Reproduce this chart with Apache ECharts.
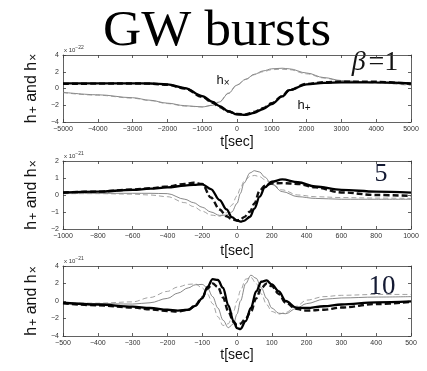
<!DOCTYPE html>
<html>
<head>
<meta charset="utf-8">
<script src="https://cdn.jsdelivr.net/npm/echarts@6/dist/echarts.min.js"></script>
<style>
  html, body { margin: 0; padding: 0; background: #fff; }
  #chart { width: 427px; height: 371px; }
</style>
</head>
<body>
<div id="chart"></div>
<script>
// ---- beta = 1 (units of 1e-22) ----
const b1Time = [-5000,-4000,-3000,-2500,-2000,-1500,-1000,-700,-500,-250,0,250,500,750,1000,1300,1500,2000,2500,3000,4000,5000];
const b1PlusSolid  = [0.6,0.62,0.62,0.6,0.5,0.05,-0.9,-1.6,-2.1,-2.7,-3.1,-3.15,-2.9,-2.45,-1.85,-0.95,-0.2,0.5,0.68,0.74,0.72,0.62];
const b1PlusDashed = [0.55,0.58,0.6,0.58,0.45,0.0,-1.0,-1.7,-2.2,-2.75,-3.05,-3.1,-2.8,-2.35,-1.75,-0.9,-0.2,0.55,0.75,0.82,0.8,0.55];
const b1CrossSolid = [-0.45,-0.75,-1.1,-1.4,-1.75,-2.05,-2.2,-2.0,-1.6,-0.6,0.4,1.1,1.7,2.1,2.35,2.42,2.35,1.85,1.3,0.95,0.7,0.45];
const b1CrossDashed= [-0.5,-0.8,-1.15,-1.45,-1.8,-2.1,-2.2,-2.0,-1.55,-0.55,0.45,1.1,1.65,2.0,2.25,2.3,2.25,1.75,1.25,0.9,0.65,0.35];

// ---- beta = 5 (units of 1e-21) ----
const b5Time = [-1000,-800,-600,-500,-400,-300,-250,-200,-150,-100,-60,-30,0,20,40,75,100,130,160,200,260,350,450,600,800,1000];
const b5PlusSolid  = [0.14,0.2,0.3,0.37,0.45,0.55,0.6,0.63,0.35,-0.3,-0.85,-1.3,-1.5,-1.57,-1.52,-1.28,-0.8,-0.1,0.45,0.78,0.92,0.75,0.5,0.3,0.2,0.14];
const b5PlusDashed = [0.15,0.2,0.32,0.4,0.5,0.65,0.72,0.65,-0.15,-0.85,-1.25,-1.42,-1.5,-1.45,-1.3,-0.98,-0.5,0.25,0.55,0.68,0.7,0.65,0.45,0.15,0.0,-0.05];
const b5CrossSolid = [0.1,0.1,0.1,0.1,0.08,-0.25,-0.45,-0.72,-1.0,-1.2,-1.18,-1.0,-0.5,0.1,0.7,1.3,1.43,1.35,1.05,0.62,0.2,-0.1,-0.2,-0.25,-0.25,-0.25];
const b5CrossDashed= [0.08,0.08,0.05,0.0,-0.1,-0.45,-0.68,-0.95,-1.18,-1.25,-1.05,-0.6,-0.05,0.4,0.8,1.1,1.15,1.08,0.9,0.65,0.3,0.0,-0.1,-0.15,-0.18,-0.2];

// ---- beta = 10 (units of 1e-21) ----
const b10Time = [-500,-400,-300,-250,-200,-170,-140,-120,-100,-85,-70,-55,-40,-25,-10,0,10,25,40,55,70,85,100,120,140,170,200,250,300,400,500];
const b10PlusSolid  = [-0.2,-0.4,-0.65,-0.8,-1.0,-1.1,-1.0,-0.55,0.3,1.6,2.5,2.4,1.5,-0.5,-2.3,-3.1,-3.2,-2.3,-0.8,1.1,2.2,2.35,1.9,1.1,0.0,-0.75,-0.8,-0.6,-0.4,-0.15,-0.05];
const b10PlusDashed = [-0.25,-0.5,-0.75,-0.95,-1.15,-1.2,-1.0,-0.5,0.4,1.4,2.0,1.6,0.4,-1.2,-2.4,-2.75,-2.6,-2.0,-1.2,0.3,1.5,2.0,1.7,0.8,-0.2,-0.9,-1.1,-1.0,-0.75,-0.35,-0.1];
const b10CrossSolid = [-0.2,-0.3,-0.35,-0.2,0.3,0.9,1.5,1.85,1.9,1.5,0.5,-0.8,-2.2,-3.05,-2.6,-1.5,0.0,2.0,2.95,2.6,1.5,0.3,-0.8,-1.4,-1.45,-0.85,-0.3,0.2,0.35,0.45,0.5];
const b10CrossDashed= [-0.2,-0.25,-0.1,0.4,1.1,1.6,1.9,1.95,1.5,0.8,-0.3,-1.8,-2.8,-2.6,-1.2,0.0,1.2,2.5,2.7,2.0,0.8,-0.4,-1.2,-1.5,-1.3,-0.6,0.1,0.5,0.65,0.75,0.75];

// Axis ranges and tick steps for each panel
const panelXRange = [[-5000, 5000, 1000], [-1000, 1000, 200], [-500, 500, 100]];
const panelYRange = [[-4, 4, 2], [-2, 2, 1], [-4, 4, 2]];
const panelExponent = ['−22', '−21', '−21'];
const panelBeta = ['1', '5', '10'];

const grids = [
  { left: 63, width: 348, top: 55, height: 67 },
  { left: 63, width: 348, top: 161, height: 68 },
  { left: 63, width: 348, top: 266, height: 70 }
];

const zip = (t, v) => t.map((x, i) => [x, v[i]]);
const minusFmt = v => String(v).replace('-', '−');

const panels = [
  [b1Time, b1PlusSolid, b1PlusDashed, b1CrossSolid, b1CrossDashed],
  [b5Time, b5PlusSolid, b5PlusDashed, b5CrossSolid, b5CrossDashed],
  [b10Time, b10PlusSolid, b10PlusDashed, b10CrossSolid, b10CrossDashed]
];

const sans = 'Liberation Sans, Arial, sans-serif';
const serif = 'Liberation Serif, Times New Roman, serif';
const axisLineStyle = { color: '#3a3a3a', width: 0.8 };
const labelStyle = { fontSize: 7, color: '#333', fontFamily: sans };

const xAxes = [], yAxes = [], series = [];
const xNameGap = [13, 15, 12];

grids.forEach((g, i) => {
  const [xmin, xmax, xstep] = panelXRange[i];
  const [ymin, ymax, ystep] = panelYRange[i];
  // bottom axis with labels
  xAxes.push({
    type: 'value', gridIndex: i, min: xmin, max: xmax, interval: xstep, position: 'bottom',
    axisLine: { show: true, onZero: false, lineStyle: axisLineStyle },
    axisTick: { inside: true, length: 3, lineStyle: axisLineStyle },
    axisLabel: Object.assign({ margin: 4, formatter: minusFmt }, labelStyle),
    splitLine: { show: false },
    name: 't[sec]', nameLocation: 'middle', nameGap: xNameGap[i],
    nameTextStyle: { fontSize: 14, color: '#111', fontFamily: sans }
  });
  // top box edge with ticks
  xAxes.push({
    type: 'value', gridIndex: i, min: xmin, max: xmax, interval: xstep, position: 'top',
    axisLine: { show: true, onZero: false, lineStyle: axisLineStyle },
    axisTick: { inside: true, length: 3, lineStyle: axisLineStyle },
    axisLabel: { show: false }, splitLine: { show: false }
  });
  yAxes.push({
    type: 'value', gridIndex: i, min: ymin, max: ymax, interval: ystep, position: 'left',
    axisLine: { show: true, onZero: false, lineStyle: axisLineStyle },
    axisTick: { inside: true, length: 3, lineStyle: axisLineStyle },
    axisLabel: Object.assign({ margin: 4, formatter: minusFmt }, labelStyle),
    splitLine: { show: false },
    name: '{m|h}{s|+}{m| and h}{s|×}',
    nameLocation: 'middle', nameRotate: 90, nameGap: 19,
    nameTextStyle: {
      color: '#111',
      rich: {
        m: { fontSize: 16, lineHeight: 17, verticalAlign: 'top', fontFamily: sans, color: '#111' },
        s: { fontSize: 12, lineHeight: 13, padding: [9, 0, 0, 1], verticalAlign: 'bottom', fontFamily: sans, color: '#111' }
      }
    }
  });
  // right box edge with ticks
  yAxes.push({
    type: 'value', gridIndex: i, min: ymin, max: ymax, interval: ystep, position: 'right',
    axisLine: { show: true, onZero: false, lineStyle: axisLineStyle },
    axisTick: { inside: true, length: 3, lineStyle: axisLineStyle },
    axisLabel: { show: false }, splitLine: { show: false }
  });

  const [t, ps, pd, cs, cd] = panels[i];
  const common = { type: 'line', xAxisIndex: 2 * i, yAxisIndex: 2 * i, showSymbol: false, smooth: 0.35, smoothMonotone: 'x', animation: false };
  series.push(Object.assign({ name: 'h× ' + panelBeta[i], data: zip(t, cs), lineStyle: { color: '#6a6a6a', width: 0.8 } }, common));
  series.push(Object.assign({ name: 'h× dashed ' + panelBeta[i], data: zip(t, cd), lineStyle: { color: '#8c8c8c', width: 0.8, type: [5, 3] } }, common));
  series.push(Object.assign({ name: 'h+ dashed ' + panelBeta[i], data: zip(t, pd), lineStyle: { color: '#111', width: 2.4, type: [6, 3] } }, common));
  series.push(Object.assign({ name: 'h+ ' + panelBeta[i], data: zip(t, ps), lineStyle: { color: '#000', width: 2.3 } }, common));
});

// exponent labels above each panel
const expLabels = grids.map((g, i) => ({
  type: 'text', left: g.left + 1, top: g.top - 10,
  style: {
    text: '{a|x 10}{b|' + panelExponent[i] + '}',
    rich: {
      a: { fontSize: 6, fill: '#333', fontFamily: sans, lineHeight: 8, verticalAlign: 'bottom' },
      b: { fontSize: 5, fill: '#333', fontFamily: sans, lineHeight: 8, verticalAlign: 'top', padding: [0, 0, 3, 0] }
    }
  }
}));

const subLabel = (x, y, sub) => ({
  type: 'text', x: x, y: y,
  style: { text: '{m|h}{s|' + sub + '}', textAlign: 'center', textVerticalAlign: 'middle',
    rich: {
      m: { fontSize: 13, lineHeight: 14, verticalAlign: 'top', fontFamily: sans, fill: '#111' },
      s: { fontSize: 10, lineHeight: 10, padding: [7, 0, 0, 0], verticalAlign: 'bottom', fontFamily: sans, fill: '#111' }
    } }
});

const graphics = expLabels.concat([
  { type: 'text', x: 217, y: 57, scaleX: 1.06,
    style: { text: 'GW bursts', font: '50px ' + serif, fill: '#000', textAlign: 'center', textVerticalAlign: 'bottom' } },
  { type: 'text', x: 375, y: 63,
    style: { text: '{g|β}{e|=1}', textAlign: 'center', textVerticalAlign: 'middle',
      rich: {
        g: { fontSize: 28, fontStyle: 'italic', fontFamily: serif, fill: '#141414', padding: [0, 3, 0, 0] },
        e: { fontSize: 28, fontFamily: serif, fill: '#141414' }
      } } },
  { type: 'text', x: 381, y: 174,
    style: { text: '5', font: '26px ' + serif, fill: '#141a33', textAlign: 'center', textVerticalAlign: 'middle' } },
  { type: 'text', x: 382, y: 287,
    style: { text: '10', font: '27px ' + serif, fill: '#141a33', textAlign: 'center', textVerticalAlign: 'middle' } },
  subLabel(223, 81, '×'),
  subLabel(304, 106, '+')
]);

const chart = echarts.init(document.getElementById('chart'), null, { renderer: 'canvas' });
chart.setOption({
  backgroundColor: '#fff',
  animation: false,
  grid: grids,
  xAxis: xAxes,
  yAxis: yAxes,
  series: series,
  graphic: graphics
});
</script>
</body>
</html>
